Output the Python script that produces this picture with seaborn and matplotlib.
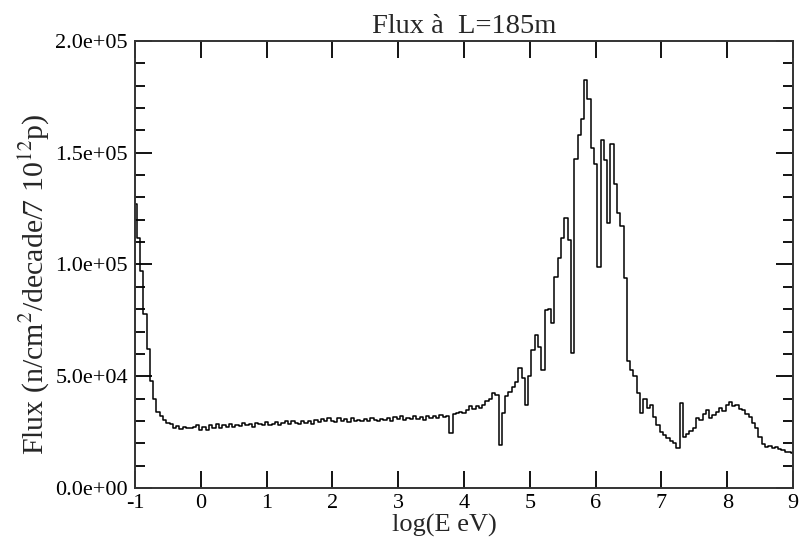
import numpy as np
import pandas as pd
import matplotlib
matplotlib.use("Agg")
import matplotlib.pyplot as plt
import seaborn as sns
from matplotlib.ticker import MultipleLocator, FormatStrFormatter

# Bin centres: log10(E/eV) from -1 to 9 in steps of 0.05
log_e = np.round(np.arange(-1.0, 9.0001, 0.05), 2)

# Flux values (thousands), region by region
flux_thermal = [127, 112, 97, 78, 62, 48, 40, 34, 32, 30.5, 29]  # -1.00 .. -0.50
flux_plateau = [28.5, 27, 27.8, 26.5, 27.5, 27, 26.8, 27.2, 28, 26,       # -0.45 .. 0.00
                27.5, 25.8, 28, 27, 28.5, 27, 28.2, 27.5, 28.8, 27.3,     # 0.05 .. 0.50
                28, 27.6, 29, 28.2, 28.6, 27.5, 29.2, 28.5, 28, 29.5,     # 0.55 .. 1.00
                28.4, 28.8, 29.6, 28.2, 29, 29.8, 28.5, 30, 29.2, 28.8,   # 1.05 .. 1.50
                30.2, 29.3, 30, 28.6, 30.5, 29.5, 31, 29.8, 31.5, 30]     # 1.55 .. 2.00
flux_epithermal = [29.5, 31.2, 30, 30.8, 29.6, 31.5, 30.2, 30.6, 29.8, 31,  # 2.05 .. 2.50
                   30.2, 31.4, 30.5, 29.8, 31, 30.4, 31.2, 30.2, 31.6, 30.8,  # 2.55 .. 3.00
                   32, 30.5, 31.4, 30.8, 32, 31, 31.8, 30.6, 32.2, 31.2,      # 3.05 .. 3.50
                   32.4, 31.5, 32.8, 31.8, 32.2, 24.6, 33, 33.5, 34, 33.5]    # 3.55 .. 4.00
flux_rise = [35, 36.7, 35.2, 36.5, 35.8, 37, 38.9, 40, 42.5, 41.6,   # 4.05 .. 4.50
             19.2, 33.5, 41, 43, 45, 47.4, 53.6, 49, 37, 50]         # 4.55 .. 5.00
flux_peak = [61.7, 68.4, 63, 52.8, 79.6, 80, 73.8, 94.4, 103, 112,        # 5.05 .. 5.50
             121, 111, 60.4, 147, 158, 165, 182.5, 174, 152, 145,        # 5.55 .. 6.00
             98.8, 155.7, 146.7, 118.5, 154, 136, 123, 117, 94, 57]      # 6.05 .. 6.50
flux_tail = [53, 50, 42.5, 33.5, 40, 36, 37, 31.8, 28, 25,               # 6.55 .. 7.00
             23.7, 22.4, 21, 20, 18, 38, 22.8, 24, 25.5, 26.8,           # 7.05 .. 7.50
             31.3, 30.5, 33, 34.9, 31.3, 32.5, 34, 35.8, 34.5, 37,       # 7.55 .. 8.00
             38.5, 36.5, 37, 35.5, 34.9, 33, 31.8, 29, 26.8, 23,         # 8.05 .. 8.50
             19.5, 18.3, 18.8, 17.8, 18.3, 17.5, 17, 16.2, 16, 15.6]     # 8.55 .. 9.00

flux_k = (flux_thermal + flux_plateau + flux_epithermal + flux_rise
          + flux_peak + flux_tail)
df = pd.DataFrame({"logE": log_e, "flux": np.array(flux_k) * 1000.0})

sns.set_style("ticks")
plt.rcParams["font.family"] = ["Liberation Serif", "DejaVu Serif"]
plt.rcParams["mathtext.fontset"] = "stix"
plt.rcParams["axes.unicode_minus"] = False

fig = plt.figure(figsize=(7.99, 5.42), dpi=100)
ax = fig.add_axes([0.169, 0.0996, 0.8235, 0.8248])

sns.lineplot(data=df, x="logE", y="flux", ax=ax, color="black",
             linewidth=1.1, estimator=None, drawstyle="steps-mid")

ax.set_xlim(-1, 9)
ax.set_ylim(0, 2.0e5)
ax.xaxis.set_major_locator(MultipleLocator(1))
ax.yaxis.set_major_locator(MultipleLocator(5e4))
ax.yaxis.set_minor_locator(MultipleLocator(1e4))
ax.yaxis.set_major_formatter(FormatStrFormatter("%.1e"))

ax.tick_params(which="both", direction="in", top=True, right=True,
               width=1.3, colors="black", labelsize=16)
ax.tick_params(which="major", length=12)
ax.tick_params(which="minor", length=7)
ax.tick_params(axis="x", which="major", pad=4)
ax.tick_params(axis="y", which="major", pad=5)
for s in ax.spines.values():
    s.set_linewidth(1.4)
    s.set_color("#333333")

ax.set_title("Flux à  L=185m", fontsize=20.5, pad=6)
ax.set_xlabel("log(E eV)", fontsize=19)
ax.set_ylabel(r"Flux (n/cm$^2$/decade/7 10$^{12}$p)", fontsize=21.5)
ax.xaxis.set_label_coords(0.47, -0.057, transform=ax.transAxes)
ax.xaxis.label.set_va("top")
ax.yaxis.set_label_coords(-0.128, 0.455, transform=ax.transAxes)

fig.savefig("out.png", dpi=100)
